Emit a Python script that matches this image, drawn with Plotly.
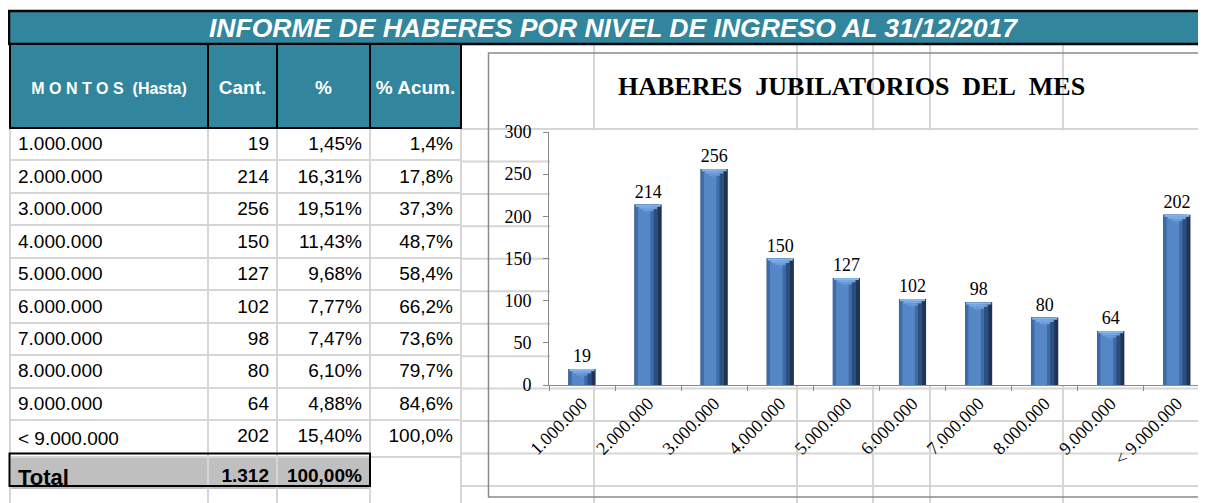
import plotly.graph_objects as go

# The page body has an 8px margin, so the figure is drawn 8px in from the
# window's top-left corner; the figure is sized so that it ends at the window edge.
OFF = 8
W, H = 1206 - OFF, 503 - OFF

# ---------------- data ----------------
montos = ["1.000.000", "2.000.000", "3.000.000", "4.000.000", "5.000.000",
          "6.000.000", "7.000.000", "8.000.000", "9.000.000", "< 9.000.000"]
cant = [19, 214, 256, 150, 127, 102, 98, 80, 64, 202]
pct = ["1,45%", "16,31%", "19,51%", "11,43%", "9,68%", "7,77%", "7,47%", "6,10%", "4,88%", "15,40%"]
pct_acum = ["1,4%", "17,8%", "37,3%", "48,7%", "58,4%", "66,2%", "73,6%", "79,7%", "84,6%", "100,0%"]
total_label = "Total"
total_cant = "1.312"
total_pct = "100,00%"
header_labels = ["M O N T O S\u00a0\u00a0(Hasta)", "Cant.", "%", "% Acum."]
report_title = "INFORME DE HABERES POR NIVEL DE INGRESO AL 31/12/2017"
chart_title = "HABERES\u00a0\u00a0JUBILATORIOS\u00a0\u00a0DEL\u00a0\u00a0MES"
y_ticks = [0, 50, 100, 150, 200, 250, 300]

# ---------------- style ----------------
TEAL = "#31859C"
GRID = "#D6D6D6"
AXIS = "#8A8A8A"
SANS = "Liberation Sans, Arial, sans-serif"
SERIF = "Liberation Serif, Times New Roman, serif"


def fx(x):
    return (x - OFF) / W


def fy(y):
    return 1 - (y - OFF) / H


shapes = []
# spreadsheet gridlines
col_lines = [10, 208, 277, 370, 461, 594, 797, 873, 930, 1063]
row_h = 32.45
row_lines = [129 + row_h * i for i in range(12)]
for yv in row_lines:
    shapes.append(dict(type="line", xref="paper", yref="paper", x0=fx(10), x1=1.0,
                       y0=fy(yv), y1=fy(yv), line=dict(color=GRID, width=2), layer="below"))
for xv in col_lines:
    shapes.append(dict(type="line", xref="paper", yref="paper", x0=fx(xv), x1=fx(xv),
                       y0=fy(44), y1=0, line=dict(color=GRID, width=2), layer="below"))
# white plot area
shapes.append(dict(type="rect", xref="paper", yref="paper", x0=fx(550), x1=1.0,
                   y0=fy(386), y1=fy(130.5), fillcolor="white", line=dict(width=0), layer="below"))
# chart border
shapes.append(dict(type="rect", xref="paper", yref="paper", x0=fx(488.5), x1=fx(1220),
                   y0=fy(497), y1=fy(53), line=dict(color=AXIS, width=1.5), layer="below"))
# title bar
shapes.append(dict(type="rect", xref="paper", yref="paper", x0=fx(9), x1=fx(1220),
                   y0=fy(44), y1=fy(11), fillcolor=TEAL, line=dict(color="black", width=2.5),
                   layer="below"))
# total row box
shapes.append(dict(type="rect", xref="paper", yref="paper", x0=fx(9.5), x1=fx(370),
                   y0=fy(row_lines[11]), y1=fy(row_lines[10]),
                   line=dict(color="black", width=2), layer="above"))

fig = go.Figure()

# ---------------- table ----------------
n = len(montos)
cells_values = [
    montos + ["<b>" + total_label + "</b>"],
    [str(c) for c in cant] + ["<b>" + total_cant + "</b>"],
    pct + ["<b>" + total_pct + "</b>"],
    pct_acum + [""],
]
fills = [["white"] * n + ["#BFBFBF"] for _ in range(3)] + [["white"] * (n + 1)]

header_vals = []
for i, h in enumerate(header_labels):
    inner = "<b>" + h + "</b>"
    if i == 0:
        inner = "<span style='font-size:16px'>" + inner + "</span>"
    header_vals.append("\u00a0<br>" + inner)

fig.add_trace(go.Table(
    domain=dict(x=[fx(10), fx(461)], y=[fy(489), fy(44)]),
    columnwidth=[198, 69, 93, 91],
    header=dict(
        values=header_vals,
        fill_color=TEAL,
        line=dict(color="black", width=2),
        font=dict(family=SANS, size=19, color="white"),
        align="center",
        height=84,
    ),
    cells=dict(
        values=cells_values,
        fill_color=fills,
        line=dict(color=GRID, width=2),
        font=dict(family=SANS, size=19, color="black"),
        align=["left", "right", "right", "right"],
        height=row_h,
    ),
))
# plotly.js accepts a per-cell font size grid (column -> rows); the "Total" label is larger
try:
    fig._data[0]["cells"]["font"]["size"] = [[19] * n + [22]] + [[19] * (n + 1)] * 3
except Exception:
    pass

# ---------------- bars (shaded to mimic the bevelled 3D bars) ----------------
BW = 0.41
layers = [
    (0.0, 1.00, "#1E3452"),
    (0.0, 0.86, "#2C4F80"),
    (0.0, 0.70, "#3E6CA9"),
    (0.12, 0.46, "#5586C5"),
]
for i, (off, frac, col) in enumerate(layers):
    fig.add_trace(go.Bar(
        x=montos, y=cant,
        offset=-BW / 2 + off * BW, width=BW * frac,
        marker=dict(color=col, line=dict(width=0)),
        text=[str(c) for c in cant] if i == 0 else None,
        textposition="outside" if i == 0 else "none",
        textfont=dict(family=SERIF, size=18, color="black"),
        constraintext="none",
        cliponaxis=False,
        hoverinfo="skip",
    ))

# top bevel (light "V" at the top of each bar), stepped in thin slices
step = 2.6  # in value units (~2.2 px)
bevel = [(0.92, "#86B6EE"), (0.66, "#79A9E4"), (0.40, "#6B9BD9"), (0.16, "#5E8ECE")]
for k, (frac, col) in enumerate(bevel):
    fig.add_trace(go.Bar(
        x=montos, y=[step] * n, base=[v - step * (k + 1) for v in cant],
        offset=-BW * frac / 2, width=BW * frac,
        marker=dict(color=col, line=dict(width=0)),
        hoverinfo="skip",
    ))

# ---------------- annotations ----------------
annotations = [
    dict(x=fx(613), y=fy(27.5), xref="paper", yref="paper", showarrow=False,
         text="<b><i>" + report_title + "</i></b>", xanchor="center", yanchor="middle",
         font=dict(family=SANS, size=26.5, color="white")),
    dict(x=fx(851), y=fy(86), xref="paper", yref="paper", showarrow=False,
         text="<b>" + chart_title + "</b>", xanchor="center", yanchor="middle",
         font=dict(family=SERIF, size=26, color="black")),
]

fig.update_layout(
    width=W, height=H, autosize=False,
    margin=dict(l=0, r=0, t=0, b=0, pad=0, autoexpand=False),
    paper_bgcolor="white", plot_bgcolor="rgba(0,0,0,0)",
    barmode="overlay", showlegend=False,
    shapes=shapes, annotations=annotations,
    xaxis=dict(domain=[fx(549), 1.0], type="category", range=[-0.5, 9.44],
               automargin=False,
               tickson="boundaries", ticks="outside", ticklen=5, tickcolor=AXIS,
               showline=True, linecolor=AXIS, linewidth=1, showgrid=False, zeroline=False,
               tickangle=-45, tickfont=dict(family=SERIF, size=18, color="black")),
    yaxis=dict(domain=[fy(385), fy(132)], range=[0, 300], tickvals=y_ticks,
               automargin=False,
               ticks="outside", ticklen=5, tickcolor=AXIS, ticklabelstandoff=8,
               showline=True, linecolor=AXIS, linewidth=1, showgrid=False, zeroline=False,
               tickfont=dict(family=SERIF, size=18, color="black")),
)

fig.write_html("out.html")
